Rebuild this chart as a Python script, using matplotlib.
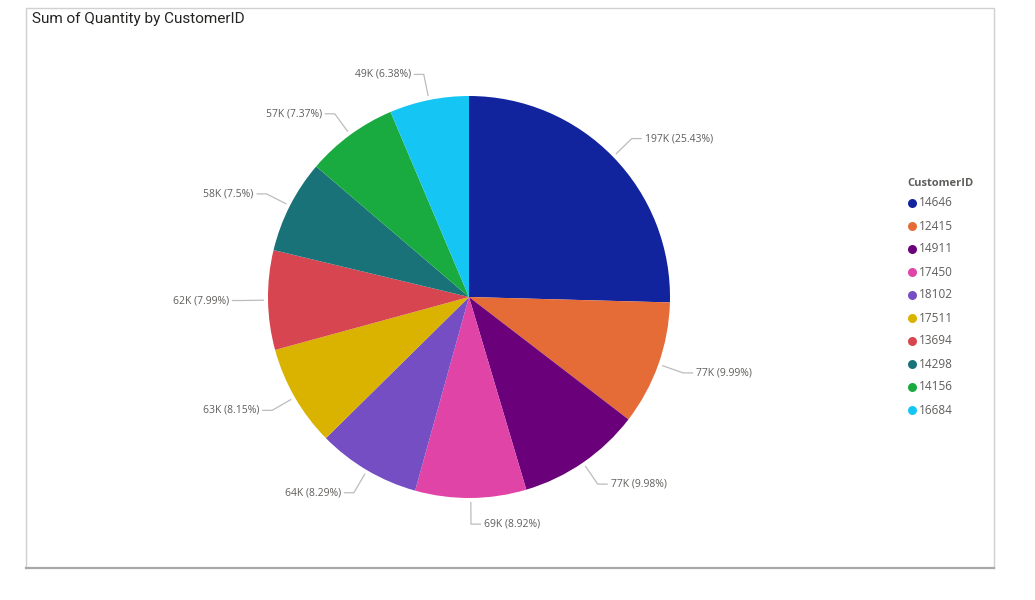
"""Power BI style pie: Sum of Quantity by CustomerID."""

import matplotlib.pyplot as plt
import numpy as np

# data (quantities in thousands)
customer_ids = ["14646", "12415", "14911", "17450", "18102",
                "17511", "13694", "14298", "14156", "16684"]
quantity_k = [196.98, 77.38, 77.30, 69.09, 64.21,
              63.13, 61.89, 58.10, 57.09, 49.42]
colors = ["#12239E", "#E66C37", "#6B007B", "#E044A7", "#744EC2",
          "#D9B300", "#D64550", "#197278", "#1AAB40", "#15C6F4"]

title = "Sum of Quantity by CustomerID"
legend_title = "CustomerID"

W, H = 1035, 600
CX, CY, R = 469, H - 297, 201
LABEL_COLOR = "#605E5C"
LEADER_COLOR = "#BEBCBA"

plt.rcParams["font.family"] = ["Open Sans", "DejaVu Sans"]


def fmt_pct(p):
    return f"{p:.2f}".rstrip("0").rstrip(".")


fig = plt.figure(figsize=(W / 100, H / 100), dpi=100)
ax = fig.add_axes([0, 0, 1, 1])

wedges, _ = ax.pie(quantity_k, colors=colors, startangle=90, counterclock=False,
                   center=(CX, CY), radius=R, wedgeprops=dict(linewidth=0))
ax.set_xlim(0, W)
ax.set_ylim(0, H)
ax.set_aspect("equal")
ax.axis("off")

total = sum(quantity_k)
for w, v in zip(wedges, quantity_k):
    ang = np.deg2rad((w.theta1 + w.theta2) / 2)
    c, s = np.cos(ang), np.sin(ang)
    side = 1 if c >= 0 else -1
    x1, y1 = CX + 1.02 * R * c, CY + 1.02 * R * s
    x2, y2 = CX + 1.13 * R * c, CY + 1.13 * R * s
    x3 = x2 + side * 0.05 * R
    ax.plot([x1, x2, x3], [y1, y2, y2], color=LEADER_COLOR, lw=0.9,
            solid_capstyle="butt")
    ax.text(x3 + side * 3, y2, f"{v:.0f}K ({fmt_pct(100 * v / total)}%)",
            ha="left" if side > 0 else "right", va="center",
            fontsize=7.5, color=LABEL_COLOR)

# visual frame
ax.plot([26, 26, 994, 994], [H - 568, H - 8, H - 8, H - 568],
        color="#D0D0D0", lw=1)
ax.plot([26, 994], [H - 568, H - 568], color="#A8A8A8", lw=1.6)

ax.text(32, H - 19, title, ha="left", va="center", fontsize=11,
        color="#252423", family=["Roboto", "DejaVu Sans"])

# legend
lx, ly, step = 912, H - 203, 23
ax.text(907, H - 183, legend_title, ha="left", va="center", fontsize=8,
        fontweight="bold", color="#605E5C")
for i, (cid, col) in enumerate(zip(customer_ids, colors)):
    y = ly - i * step
    ax.scatter([lx], [y], s=42, color=col, linewidths=0)
    ax.text(lx + 7, y, cid, ha="left", va="center", fontsize=8.5,
            color="#605E5C")

fig.savefig("out.png", dpi=100)
